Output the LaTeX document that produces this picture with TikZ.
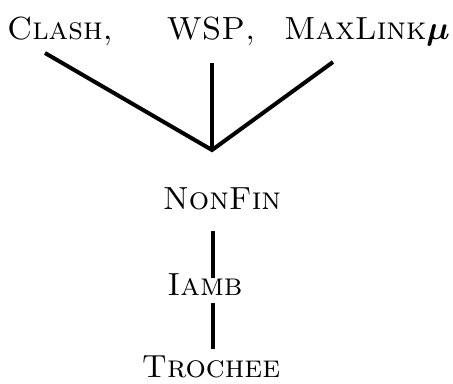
\documentclass[tikz,border=0pt]{standalone}
\usepackage{tikz}
\usepackage{amsmath, amssymb}
\usetikzlibrary{positioning, calc}

\begin{document}
\begin{tikzpicture}[x=0.75pt, y=-0.75pt,
        vincolo/.style={font=\fontsize{24}{28}\selectfont\scshape, anchor=base, inner sep=0pt},
        legame/.style={line width=3pt, black}]
        %cornice
        \useasboundingbox (0,0) rectangle (453,383);
        %vincoli in alto
        \node[vincolo] (clash) at (60,39) {Clash,};
        \node[vincolo] (wsp) at (211,39) {WSP,};
        \node[vincolo] (maxlink) at (367,39) {MaxLink$\boldsymbol{\mu}$};
        %vincoli in basso
        \node[vincolo] (nonfin) at (222,209) {NonFin};
        \node[vincolo] (iamb) at (205,295) {Iamb};
        \node[vincolo] (trochee) at (211,377) {Trochee};
        %estremi dei legami
        \coordinate (join) at (212,150);
        \coordinate (clashend) at (45,53);
        \coordinate (wspend) at (212,63);
        \coordinate (maxend) at (333,62);
        \coordinate (nonfinend) at (213,231);
        \coordinate (iambtop) at (213,278);
        \coordinate (iambend) at (213,303);
        \coordinate (trocheetop) at (213,349);
        %disegno legami
        \draw[legame] (clashend) -- (join) -- (maxend);
        \draw[legame] (wspend) -- (join);
        \draw[legame] (nonfinend) -- (iambtop);
        \draw[legame] (iambend) -- (trocheetop);
\end{tikzpicture}
\end{document}
